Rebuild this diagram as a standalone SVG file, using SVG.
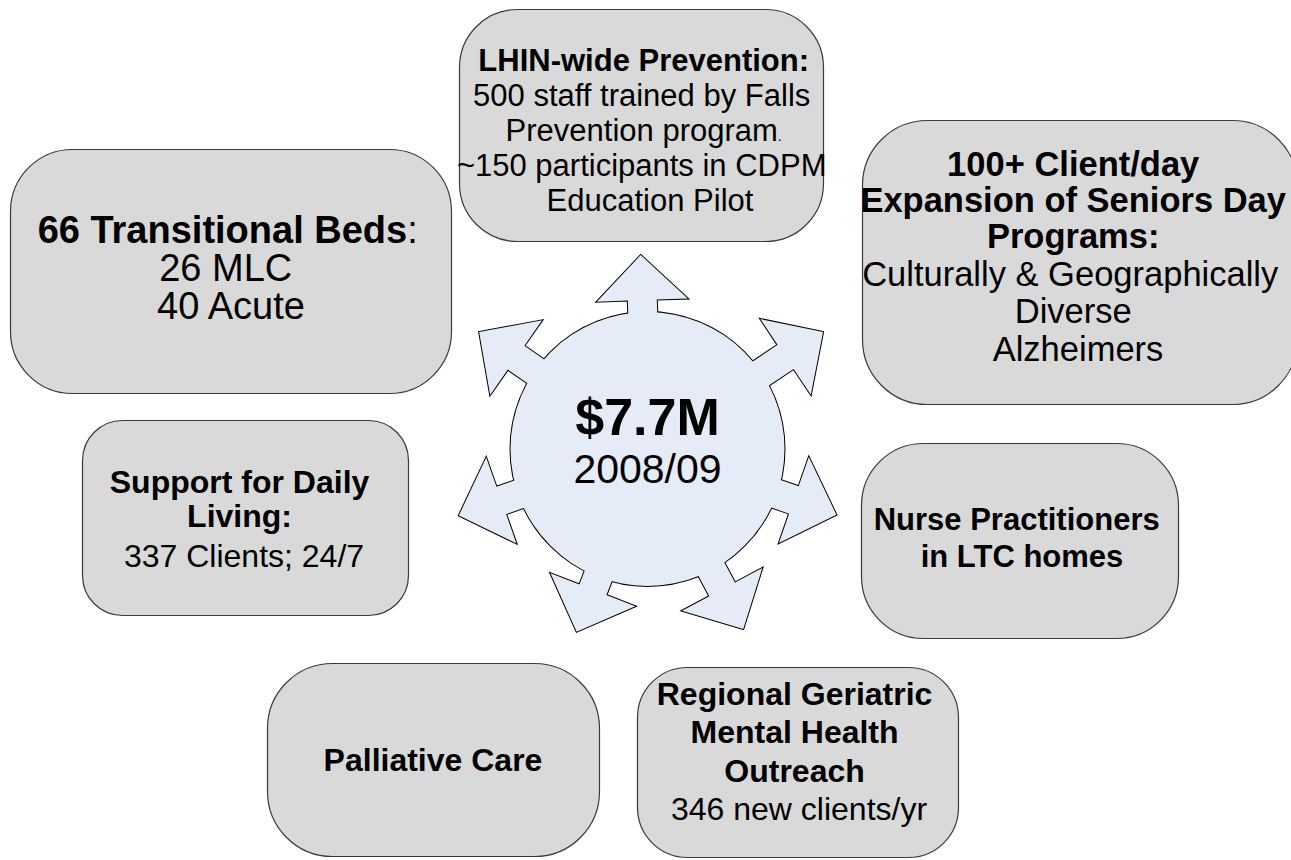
<svg xmlns="http://www.w3.org/2000/svg" xmlns:xlink="http://www.w3.org/1999/xlink" width="1291" height="860" viewBox="0 0 1291 860">
  <style>
    .box { fill: #D9D9D9; stroke: #3a3a3a; stroke-width: 1.2; }
    text { font-family: "Liberation Sans", Arial, Helvetica, sans-serif; fill: #000; text-anchor: middle; }
    .b { font-weight: bold; }
    .n { font-weight: normal; }
  </style>
  <defs>
    <g id="hubShape">
      <circle cx="0" cy="0" r="137"/>
      <polygon transform="rotate(-92)" points="0,-14.5 149,-14.5 149,-45.5 194,0 149,45.5 149,14.5 0,14.5"/>
      <polygon transform="rotate(-33.7)" points="0,-14.5 166,-14.5 166,-45.5 211,0 166,45.5 166,14.5 0,14.5"/>
      <polygon transform="rotate(19.2)" points="0,-14.5 155,-14.5 155,-45.5 200,0 155,45.5 155,14.5 0,14.5"/>
      <polygon transform="rotate(62)" points="0,-14.5 159,-14.5 159,-45.5 204,0 159,45.5 159,14.5 0,14.5"/>
      <polygon transform="rotate(111.2)" points="0,-14.5 151,-14.5 151,-45.5 196,0 151,45.5 151,14.5 0,14.5"/>
      <polygon transform="rotate(160.6)" points="0,-14.5 155,-14.5 155,-45.5 200,0 155,45.5 155,14.5 0,14.5"/>
      <polygon transform="rotate(-145.2)" points="0,-14.5 160,-14.5 160,-45.5 205,0 160,45.5 160,14.5 0,14.5"/>
    </g>
  </defs>
  <rect width="1291" height="860" fill="#FFFFFF"/>

  <g id="connectors"></g>

  <g id="hub" transform="translate(647.5 449)">
    <use href="#hubShape" xlink:href="#hubShape" fill="#E6ECF7" stroke="#000" stroke-width="2"/>
    <use href="#hubShape" xlink:href="#hubShape" fill="#E6ECF7" stroke="none"/>
    <text class="b" x="0" y="-14" font-size="52">$7.7M</text>
    <text x="0" y="34" font-size="41">2008/09</text>
  </g>

  <g id="node-lhin">
    <rect class="box" x="459.5" y="9.5" width="364" height="232" rx="58" ry="58"/>
    <text font-size="31">
      <tspan class="b" x="648" y="71">LHIN-wide Prevention:</tspan>
      <tspan x="646" y="106">500 staff trained by Falls</tspan>
      <tspan x="648" y="141">Prevention program<tspan font-size="14">.</tspan></tspan>
      <tspan x="646" y="176">~150 participants in CDPM</tspan>
      <tspan x="650" y="211">Education Pilot</tspan>
    </text>
  </g>

  <g id="node-transitional">
    <rect class="box" x="10.5" y="149.5" width="441" height="244" rx="62" ry="62"/>
    <text font-size="38">
      <tspan class="b" x="233" y="243">66 Transitional Beds<tspan class="n">:</tspan></tspan>
      <tspan x="231" y="281">26 MLC</tspan>
      <tspan x="231" y="319">40 Acute</tspan>
    </text>
  </g>

  <g id="node-seniors">
    <rect class="box" x="862.5" y="120.5" width="435" height="284" rx="65" ry="65"/>
    <text font-size="34.5">
      <tspan class="b" x="1078" y="176">100+ Client/day</tspan>
      <tspan class="b" x="1078" y="212">Expansion of Seniors Day</tspan>
      <tspan class="b" x="1078" y="248">Programs:</tspan>
      <tspan x="1075" y="286">Culturally &amp; Geographically</tspan>
      <tspan x="1078" y="323">Diverse</tspan>
      <tspan x="1078" y="361">Alzheimers</tspan>
    </text>
  </g>

  <g id="node-support">
    <rect class="box" x="82.5" y="420.5" width="326" height="195" rx="40" ry="40"/>
    <text font-size="32">
      <tspan class="b" x="244" y="493">Support for Daily</tspan>
      <tspan class="b" x="244" y="527">Living:</tspan>
      <tspan x="244" y="567">337 Clients; 24/7</tspan>
    </text>
  </g>

  <g id="node-nurse">
    <rect class="box" x="861.5" y="443.5" width="317" height="195" rx="62" ry="62"/>
    <text class="b" font-size="31">
      <tspan x="1021" y="530">Nurse Practitioners</tspan>
      <tspan x="1022" y="567">in LTC homes</tspan>
    </text>
  </g>

  <g id="node-palliative">
    <rect class="box" x="267.5" y="663.5" width="332" height="193" rx="65" ry="65"/>
    <text class="b" x="433" y="771" font-size="32">Palliative Care</text>
  </g>

  <g id="node-regional">
    <rect class="box" x="637.5" y="667.5" width="321" height="190" rx="50" ry="50"/>
    <text font-size="32">
      <tspan class="b" x="799" y="705">Regional Geriatric</tspan>
      <tspan class="b" x="799" y="743">Mental Health</tspan>
      <tspan class="b" x="799" y="782">Outreach</tspan>
      <tspan x="799" y="820">346 new clients/yr</tspan>
    </text>
  </g>
</svg>
